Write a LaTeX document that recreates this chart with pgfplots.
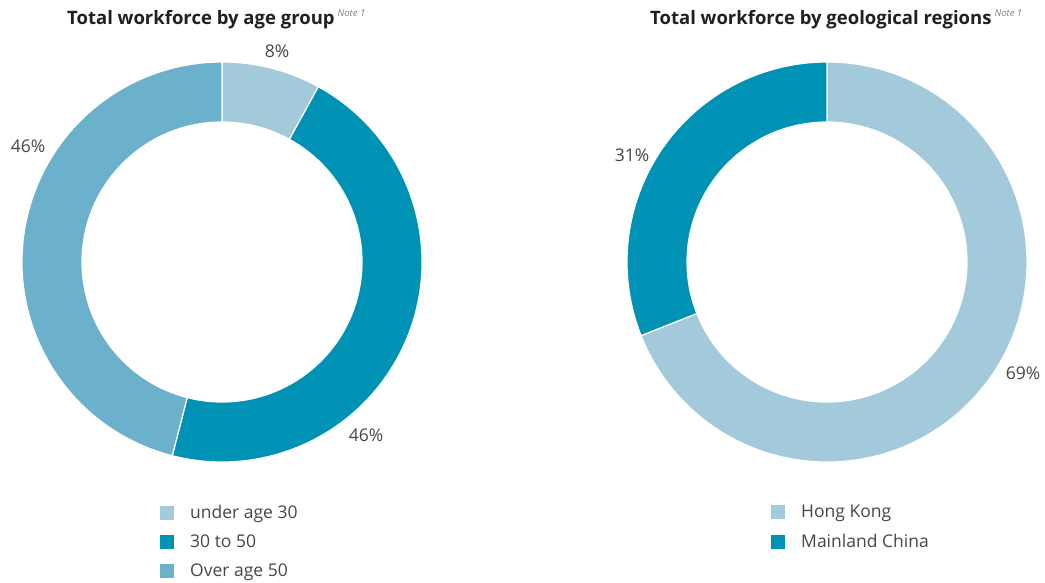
\documentclass[border=0pt]{standalone}
\usepackage{pgfplots}
\usepackage{pgfplotstable}
\pgfplotsset{compat=1.18}
\usepackage{fontspec}
\setmainfont{Open Sans}

\definecolor{c1}{RGB}{163,202,219}
\definecolor{c2}{RGB}{0,146,180}
\definecolor{c3}{RGB}{108,177,203}
\definecolor{txt}{RGB}{70,70,70}
\definecolor{ttl}{RGB}{35,31,32}

% value, colour, label position (axis units)
\pgfplotstableread{
name value color lx ly
{under age 30} 8 c1 0.275 1.055
{30 to 50} 46 c2 0.72 -0.865
{Over age 50} 46 c3 -0.97 0.58
}\agetable

\pgfplotstableread{
name value color lx ly
{Hong Kong} 69 c1 0.98 -0.555
{Mainland China} 31 c2 -0.975 0.535
}\regiontable

% draws the donut of one table inside the current axis
\newcommand\donut[1]{%
  \pgfplotstablegetrowsof{#1}%
  \pgfmathtruncatemacro\nrows{\pgfplotsretval-1}%
  \def\cum{0}%
  \pgfplotsforeachungrouped \i in {0,...,\nrows}{%
    \pgfplotstablegetelem{\i}{value}\of#1\let\v\pgfplotsretval
    \pgfplotstablegetelem{\i}{color}\of#1\let\c\pgfplotsretval
    \pgfplotstablegetelem{\i}{lx}\of#1\let\lx\pgfplotsretval
    \pgfplotstablegetelem{\i}{ly}\of#1\let\ly\pgfplotsretval
    \pgfmathsetmacro\a{90-3.6*\cum}%
    \pgfmathsetmacro\b{90-3.6*(\cum+\v)}%
    \edef\temp{\noexpand\filldraw[fill=\c, draw=white, line width=1.2pt]
      (axis cs:{cos(\a)},{sin(\a)}) arc[start angle=\a, end angle=\b, radius=200pt]
      -- (axis cs:{0.7*cos(\b)},{0.7*sin(\b)}) arc[start angle=\b, end angle=\a, radius=140pt]
      -- cycle;
      \noexpand\node[txt, font=\noexpand\fontsize{17.5}{20}\noexpand\selectfont]
      at (axis cs:\lx,\ly) {\v\noexpand\%};}%
    \temp
    \pgfmathsetmacro\cum{\cum+\v}%
  }%
}

\pgfplotsset{
  donutaxis/.style={
    scale only axis, width=400pt, height=400pt,
    xmin=-1, xmax=1, ymin=-1, ymax=1,
    hide axis, clip=false,
    legend image code/.code={\fill[##1, draw=none] (0pt,-7pt) rectangle (14pt,7pt);},
    legend style={draw=none, fill=none, inner sep=0pt, row sep=15pt,
      at={(axis description cs:0.345,-0.1075)}, anchor=north west,
      font=\fontsize{17.5}{20}\selectfont, text=txt,
      nodes={inner sep=0pt},
      /tikz/every odd column/.append style={column sep=16pt}},
    legend cell align=left,
  },
}

\newcommand\charttitle[1]{\fontsize{18.5}{22}\selectfont\bfseries #1\,%
  \raisebox{8pt}{\fontsize{9.5}{10}\selectfont\mdseries\itshape\color{gray} Note 1}}

\begin{document}
\begin{tikzpicture}
\useasboundingbox (0,0) rectangle (1045pt,583pt);

\begin{axis}[donutaxis, at={(22pt,121pt)}, anchor=south west]
  \donut{\agetable}
  \node[anchor=base west, ttl, inner sep=0pt]
    at (axis cs:-0.775,1.185) {\charttitle{Total workforce by age group}};
  \addlegendimage{fill=c1}\addlegendentry{under age 30}
  \addlegendimage{fill=c2}\addlegendentry{30 to 50}
  \addlegendimage{fill=c3}\addlegendentry{Over age 50}
\end{axis}

\begin{axis}[donutaxis, at={(627pt,121pt)}, anchor=south west,
  legend style={at={(axis description cs:0.36,-0.1075)}}]
  \donut{\regiontable}
  \node[anchor=base west, ttl, inner sep=0pt]
    at (axis cs:-0.885,1.185) {\charttitle{Total workforce by geological regions}};
  \addlegendimage{fill=c1}\addlegendentry{Hong Kong}
  \addlegendimage{fill=c2}\addlegendentry{Mainland China}
\end{axis}
\end{tikzpicture}
\end{document}
